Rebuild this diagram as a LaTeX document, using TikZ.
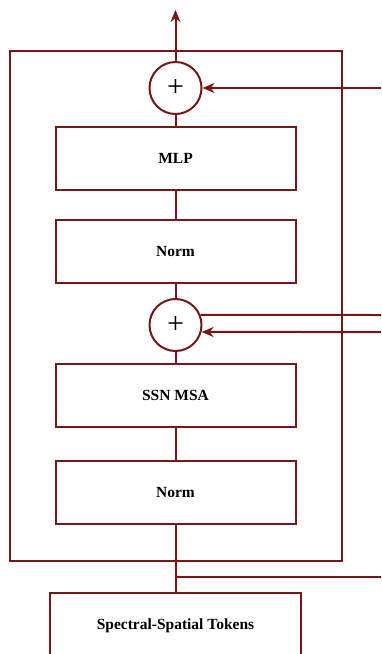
\documentclass[tikz,border=0pt]{standalone}
\usepackage{fontspec}
\setmainfont{Liberation Serif}
\usepackage{tikz}
\usetikzlibrary{arrows.meta,calc}
\definecolor{wine}{RGB}{118,22,22}

\begin{document}
\begin{tikzpicture}[x=1pt,y=-1pt,line width=2pt,
  blk/.style={draw=wine,rectangle,minimum width=240pt,minimum height=63pt,inner sep=0pt,font=\fontsize{15.5}{18}\selectfont\bfseries},
  add/.style={draw=wine,circle,minimum size=52pt,inner sep=0pt,font=\fontsize{30}{30}\selectfont},
  arr/.style={-{Stealth[length=12pt,width=10pt]}}]
 \clip (0,0) rectangle (381,654);
 \draw[wine] (10,51) rectangle (342,561);
 \node[add] (sumb) at (175.5,88) {+};
 \node[blk] (mlp) at (175.5,158.5) {MLP};
 \node[blk] (nb) at (175.5,251.5) {Norm};
 \node[add] (suma) at (175.5,325) {+};
 \node[blk] (msa) at (175.5,395) {SSN MSA};
 \node[blk] (na) at (175.5,492.5) {Norm};
 \node[draw=wine,rectangle,minimum width=251pt,minimum height=90pt,inner sep=0pt] (tok) at (175.5,638) {};
 \node[font=\fontsize{15.5}{18}\selectfont\bfseries] (toktxt) at (175.5,626) {Spectral-Spatial Tokens};
 \coordinate (out) at (175.5,10);
 \coordinate (skipb) at (381,88);
 \coordinate (skipa) at (381,332);
 \coordinate (skipc) at (381,315);
 \coordinate (split) at (175.5,577);
 \coordinate (exit) at (381,577);
 \draw[wine,arr] (sumb) -- (out);
 \draw[wine,arr] (skipb) -- (sumb);
 \draw[wine] (mlp) -- (sumb);
 \draw[wine] (nb) -- (mlp);
 \draw[wine] (suma) -- (nb);
 \draw[wine] (msa) -- (suma);
 \draw[wine] (na) -- (msa);
 \draw[wine] (tok.north -| na) -- (na);
 \draw[wine] (suma.22.6) -- (skipc);
 \draw[wine,arr] (skipa) -- (suma.-15.6);
 \draw[wine] (split) -- (exit);
\end{tikzpicture}
\end{document}
